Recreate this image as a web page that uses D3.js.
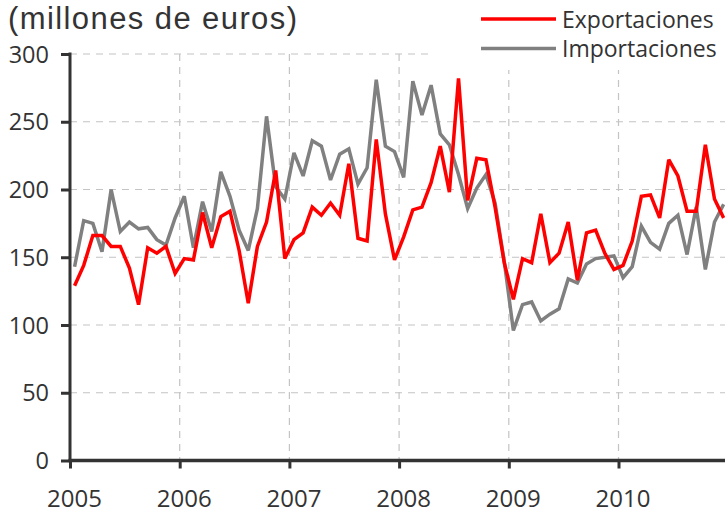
<!DOCTYPE html>
<html>
<head>
<meta charset="utf-8">
<script src="https://cdn.jsdelivr.net/npm/d3@7"></script>
<style>
  html, body { margin: 0; padding: 0; background: #fff; }
  svg { display: block; }
</style>
</head>
<body>
<svg id="chart" width="725" height="512"></svg>
<script>
// ---- data ----
const years = [2005, 2006, 2007, 2008, 2009, 2010];
const yTicks = [0, 50, 100, 150, 200, 250, 300];
const seriesNames = ["Exportaciones", "Importaciones"];
const seriesColors = ["#ff0000", "#808080"];

const exportaciones = [
  129, 144, 166, 166, 158, 158, 142, 115, 157, 153, 158, 138,
  149, 148, 183, 157, 180, 184, 155, 116, 158, 176, 214, 149,
  163, 168, 187, 181, 190, 181, 219, 164, 162, 237, 182, 148,
  165, 185, 187, 205, 232, 198, 282, 192, 223, 222, 187, 146,
  119, 149, 146, 182, 146, 153, 176, 133, 168, 170, 153, 141,
  144, 162, 195, 196, 179, 222, 210, 184, 184, 233, 193, 179
];
const importaciones = [
  143, 177, 175, 154, 200, 169, 176, 171, 172, 163, 159, 179,
  195, 157, 191, 169, 213, 195, 170, 155, 186, 254, 202, 193,
  227, 210, 236, 232, 207, 226, 230, 204, 216, 281, 232, 228,
  209, 280, 255, 277, 241, 233, 211, 186, 201, 211, 190, 147,
  96, 115, 117, 103, 108, 112, 134, 131, 145, 149, 150, 151,
  135, 143, 173, 161, 156, 175, 181, 152, 187, 141, 176, 189
];

// ---- layout ----
const svg = d3.select("#chart");
const W = 725, H = 512;
const x0 = 70, yearW = 109.7;
const x = d3.scaleLinear().domain([2005, 2011]).range([x0, x0 + 6 * yearW]);
const y = d3.scaleLinear().domain([0, 300]).range([460.5, 54]);
const textColor = "#333333";
const axisColor = "#333333";
const gridColor = "#c4c4c4";

// gridlines
svg.append("g").selectAll("line.h")
  .data(yTicks.filter(d => d > 0))
  .join("line")
  .attr("x1", x0).attr("x2", W)
  .attr("y1", d => y(d)).attr("y2", d => y(d))
  .attr("stroke", gridColor).attr("stroke-width", 1.2)
  .attr("stroke-dasharray", "7,6");

svg.append("g").selectAll("line.v")
  .data(years.filter(d => d > 2005))
  .join("line")
  .attr("x1", d => x(d)).attr("x2", d => x(d))
  .attr("y1", y(300)).attr("y2", y(0))
  .attr("stroke", gridColor).attr("stroke-width", 1.2)
  .attr("stroke-dasharray", "7,6");

// legend background box
svg.append("rect")
  .attr("x", 432).attr("y", 0).attr("width", W - 432).attr("height", 70)
  .attr("fill", "#fff");

// series lines
const line = d3.line()
  .x((d, i) => x(2005 + (i + 0.5) / 12))
  .y(d => y(d));

const data = [importaciones, exportaciones];
const cols = [seriesColors[1], seriesColors[0]];
data.forEach((s, k) => {
  svg.append("path")
    .datum(s)
    .attr("d", line)
    .attr("fill", "none")
    .attr("stroke", cols[k])
    .attr("stroke-width", 3.5)
    .attr("stroke-linejoin", "miter")
    .attr("stroke-miterlimit", 3);
});

// y axis
const yAxis = d3.axisLeft(y).tickValues(yTicks).tickSize(9).tickPadding(12)
  .tickFormat(d3.format("d"));
const gy = svg.append("g").attr("transform", `translate(${x0},0)`).call(yAxis);
gy.select(".domain").remove();
gy.selectAll(".tick line").attr("stroke", axisColor).attr("stroke-width", 3);
gy.selectAll(".tick text")
  .attr("fill", textColor)
  .attr("font-family", "'Open Sans', sans-serif")
  .attr("font-size", 23.5)
  .attr("dy", "0.34em");
svg.append("line")
  .attr("x1", x0).attr("x2", x0)
  .attr("y1", y(300) - 1.5).attr("y2", y(0) + 1.5)
  .attr("stroke", axisColor).attr("stroke-width", 3);

// x axis
const xAxis = d3.axisBottom(x).tickValues(years).tickSize(8).tickPadding(14)
  .tickFormat(d3.format("d"));
const gx = svg.append("g").attr("transform", `translate(0,${y(0)})`).call(xAxis);
gx.select(".domain").remove();
gx.selectAll(".tick line").attr("stroke", axisColor).attr("stroke-width", 3);
gx.selectAll(".tick text")
  .attr("fill", textColor)
  .attr("font-family", "'Open Sans', sans-serif")
  .attr("font-size", 24)
  .attr("dx", 4)
  .attr("dy", "1.0em");
svg.append("line")
  .attr("x1", x0 - 1.5).attr("x2", W)
  .attr("y1", y(0)).attr("y2", y(0))
  .attr("stroke", axisColor).attr("stroke-width", 3.5);

// title
svg.append("text")
  .attr("x", 8).attr("y", 29)
  .attr("font-family", "'Liberation Sans', Arial, sans-serif")
  .attr("font-size", 31)
  .attr("fill", textColor)
  .attr("textLength", 289)
  .attr("lengthAdjust", "spacing")
  .text("(millones de euros)");

// legend
const legY = [19, 48.5];
seriesNames.forEach((name, k) => {
  svg.append("line")
    .attr("x1", 481).attr("x2", 556)
    .attr("y1", legY[k]).attr("y2", legY[k])
    .attr("stroke", seriesColors[k]).attr("stroke-width", 3.5);
  svg.append("text")
    .attr("x", 562).attr("y", legY[k] + 8.5)
    .attr("font-family", "'Open Sans', sans-serif")
    .attr("font-size", 23)
    .attr("fill", textColor)
    .text(name);
});
</script>
</body>
</html>
